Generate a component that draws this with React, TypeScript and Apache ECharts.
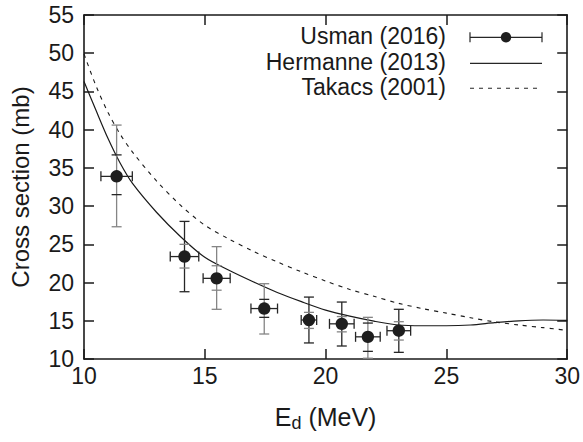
import React, { useEffect, useRef } from "react";
import * as echarts from "echarts";

// ---- Data ----
const xTicks = [10, 15, 20, 25, 30];
const yTicks = [10, 15, 20, 25, 30, 35, 40, 45, 50, 55];

const hermanneE = [10, 10.5, 11, 11.5, 12, 13, 14, 15, 16, 17, 18, 19, 20, 21, 22, 23, 24, 25, 26, 27, 28, 29, 30];
const hermanneSigma = [46.3, 42.5, 38.8, 35.6, 33.0, 29.2, 26.0, 23.3, 21.6, 20.1, 18.7, 17.5, 16.4, 15.6, 14.95, 14.45, 14.35, 14.35, 14.45, 14.75, 15.0, 15.1, 15.05];

const takacsE = [10, 10.5, 11, 11.5, 12, 13, 14, 15, 16, 17, 18, 19, 20, 21, 22, 23, 24, 25, 26, 27, 28, 29, 30];
const takacsSigma = [49.9, 45.7, 42.2, 39.4, 37.1, 33.3, 30.1, 27.5, 25.7, 24.1, 22.7, 21.4, 20.2, 19.1, 18.2, 17.3, 16.6, 16.0, 15.4, 14.85, 14.45, 14.1, 13.75];

const usmanE = [11.35, 14.16, 15.49, 17.46, 19.31, 20.67, 21.75, 23.03];
const usmanEerr = [0.65, 0.59, 0.56, 0.55, 0.32, 0.51, 0.51, 0.49];
const usmanSigma = [33.9, 23.4, 20.55, 16.6, 15.1, 14.6, 12.9, 13.7];
const usmanOuterLo = [27.3, 18.8, 16.5, 13.27, 12.1, 11.7, 10.1, 10.87];
const usmanOuterHi = [40.6, 28.0, 24.7, 19.85, 18.1, 17.45, 15.45, 16.5];
const usmanInnerLo = [31.5, 21.9, 19.0, 15.45, 14.0, 13.55, 11.0, 12.48];
const usmanInnerHi = [36.7, 25.0, 22.2, 17.8, 16.1, 15.55, 14.7, 14.88];

const seriesNames = ["Usman (2016)", "Hermanne (2013)", "Takacs (2001)"];

// ---- Styles (not data) ----
const GRAY = "#858585";
const DARK = "#262626";
const outerColors = [GRAY, DARK, GRAY, GRAY, DARK, DARK, GRAY, DARK];
const innerColors = [DARK, GRAY, GRAY, DARK, GRAY, GRAY, DARK, GRAY];
const FONT = "'Liberation Sans', Arial, Helvetica, sans-serif";

export default function App() {
  const ref = useRef<HTMLDivElement>(null);

  useEffect(() => {
    if (!ref.current) return;
    const chart = echarts.init(ref.current, undefined, { renderer: "svg" });

    const usmanData = usmanE.map((e, i) => [
      e,
      usmanSigma[i],
      e - usmanEerr[i],
      e + usmanEerr[i],
      usmanOuterLo[i],
      usmanOuterHi[i],
      usmanInnerLo[i],
      usmanInnerHi[i],
    ]);

    const cap = 5;
    const renderItem = (params: any, api: any) => {
      const i = params.dataIndex;
      const x = api.value(0);
      const y = api.value(1);
      const c = api.coord([x, y]);
      const xl = api.coord([api.value(2), y]);
      const xh = api.coord([api.value(3), y]);
      const ol = api.coord([x, api.value(4)]);
      const oh = api.coord([x, api.value(5)]);
      const il = api.coord([x, api.value(6)]);
      const ih = api.coord([x, api.value(7)]);
      const oc = outerColors[i];
      const ic = innerColors[i];
      const ln = (x1: number, y1: number, x2: number, y2: number, col: string) => ({
        type: "line",
        shape: { x1, y1, x2, y2 },
        style: { stroke: col, lineWidth: 1.3 },
      });
      return {
        type: "group",
        children: [
          ln(c[0], oh[1], c[0], ol[1], oc),
          ln(c[0] - cap, oh[1], c[0] + cap, oh[1], oc),
          ln(c[0] - cap, ol[1], c[0] + cap, ol[1], oc),
          ln(c[0] - cap, ih[1], c[0] + cap, ih[1], ic),
          ln(c[0] - cap, il[1], c[0] + cap, il[1], ic),
          ln(xl[0], c[1], xh[0], c[1], DARK),
          ln(xl[0], c[1] - cap, xl[0], c[1] + cap, DARK),
          ln(xh[0], c[1] - cap, xh[0], c[1] + cap, DARK),
          { type: "circle", shape: { cx: c[0], cy: c[1], r: 6.2 }, style: { fill: "#1e1e1e" } },
        ],
      };
    };

    const axisCommon = {
      type: "value" as const,
      axisLine: { show: true, onZero: false, lineStyle: { color: "#1a1a1a", width: 1.6 } },
      axisTick: { show: true, inside: true, length: 10, lineStyle: { color: "#1a1a1a", width: 1.5 } },
      splitLine: { show: false },
    };
    const labelStyle = { fontSize: 23, color: "#1a1a1a", fontFamily: FONT };

    const legendY = [37.3, 63.3, 88.3];
    const lx1 = 470;
    const lx2 = 542;
    const textRight = 446;

    chart.setOption({
      animation: false,
      backgroundColor: "#ffffff",
      grid: { left: 84, top: 15, right: 11, bottom: 83 },
      xAxis: [
        {
          ...axisCommon,
          min: 10,
          max: 30,
          interval: 5,
          position: "bottom",
          axisLabel: { ...labelStyle, margin: 5, formatter: (v: number) => (xTicks.includes(v) ? String(v) : "") },
          name: "{e|E}{d|d}{e| (MeV)}",
          nameLocation: "middle",
          nameGap: 43,
          nameTextStyle: {
            fontFamily: FONT,
            color: "#1a1a1a",
            rich: {
              e: { fontSize: 25, lineHeight: 30, fontFamily: FONT, color: "#1a1a1a" },
              d: { fontSize: 18, lineHeight: 18, verticalAlign: "bottom", fontFamily: FONT, color: "#1a1a1a" },
            },
          },
        },
        {
          ...axisCommon,
          min: 10,
          max: 30,
          interval: 5,
          position: "top",
          axisLabel: { show: false },
        },
      ],
      yAxis: [
        {
          ...axisCommon,
          min: 10,
          max: 55,
          interval: 5,
          position: "left",
          axisLabel: { ...labelStyle, margin: 10, formatter: (v: number) => (yTicks.includes(v) ? String(v) : "") },
          name: "Cross section (mb)",
          nameLocation: "middle",
          nameGap: 52,
          nameTextStyle: { fontSize: 24, fontFamily: FONT, color: "#1a1a1a" },
        },
        {
          ...axisCommon,
          min: 10,
          max: 55,
          interval: 5,
          position: "right",
          axisLabel: { show: false },
        },
      ],
      series: [
        {
          name: seriesNames[2],
          type: "line",
          data: takacsE.map((e, i) => [e, takacsSigma[i]]),
          smooth: 0.3,
          showSymbol: false,
          symbol: "none",
          lineStyle: { color: "#1a1a1a", width: 1.1, type: [4, 5] },
          z: 2,
        },
        {
          name: seriesNames[1],
          type: "line",
          data: hermanneE.map((e, i) => [e, hermanneSigma[i]]),
          smooth: 0.3,
          showSymbol: false,
          symbol: "none",
          lineStyle: { color: "#1a1a1a", width: 1.2 },
          z: 3,
        },
        {
          name: seriesNames[0],
          type: "custom",
          renderItem,
          data: usmanData,
          encode: { x: 0, y: 1 },
          z: 4,
        },
      ],
      graphic: [
        ...seriesNames.map((n, i) => ({
          type: "text",
          right: 583 - textRight,
          top: legendY[i] - 13,
          style: { text: n, fontSize: 23, fontFamily: FONT, fill: "#1a1a1a", align: "right" },
        })),
        { type: "line", shape: { x1: lx1, y1: legendY[0], x2: lx2, y2: legendY[0] }, style: { stroke: DARK, lineWidth: 1.2 } },
        { type: "line", shape: { x1: lx1, y1: legendY[0] - 5, x2: lx1, y2: legendY[0] + 5 }, style: { stroke: DARK, lineWidth: 1.2 } },
        { type: "line", shape: { x1: lx2, y1: legendY[0] - 5, x2: lx2, y2: legendY[0] + 5 }, style: { stroke: DARK, lineWidth: 1.2 } },
        { type: "circle", shape: { cx: (lx1 + lx2) / 2, cy: legendY[0], r: 5.2 }, style: { fill: "#1e1e1e" } },
        { type: "line", shape: { x1: lx1, y1: legendY[1], x2: lx2, y2: legendY[1] }, style: { stroke: DARK, lineWidth: 1.2 } },
        { type: "line", shape: { x1: lx1, y1: legendY[2], x2: lx2, y2: legendY[2] }, style: { stroke: DARK, lineWidth: 1.1, lineDash: [4, 5] } },
      ],
    });

    return () => chart.dispose();
  }, []);

  return <div ref={ref} style={{ position: "fixed", left: 0, top: 0, width: 583, height: 442 }} />;
}
